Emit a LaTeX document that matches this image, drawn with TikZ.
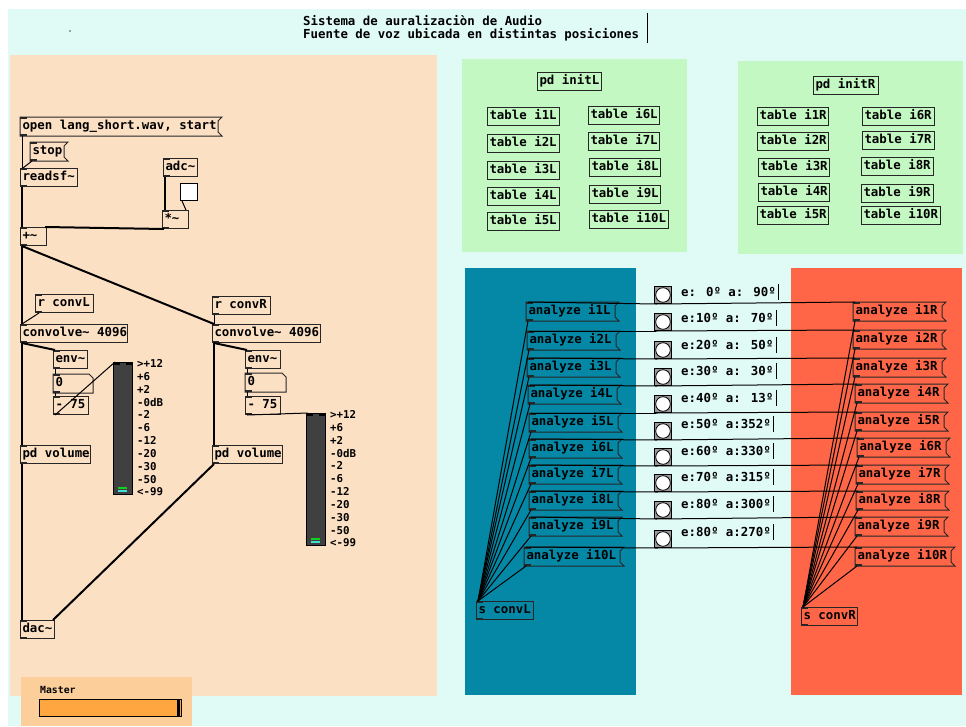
\documentclass[tikz,border=0pt]{standalone}
\usepackage{fontspec}
\setmainfont{DejaVu Sans Mono}
\usetikzlibrary{calc}

\definecolor{bgcyan}{HTML}{E0FAF6}
\definecolor{peach}{HTML}{FCE0C4}
\definecolor{masterbg}{HTML}{FCCF9A}
\definecolor{mint}{HTML}{C4F8C2}
\definecolor{pdteal}{HTML}{0488A6}
\definecolor{pdred}{HTML}{FF6647}
\definecolor{sliderorange}{HTML}{FFA640}
\definecolor{vugray}{HTML}{404040}
\definecolor{vugreen}{HTML}{10D020}
\definecolor{vucyan}{HTML}{40E0D0}

\newcommand\pdfnt{\fontsize{12.4}{14}\selectfont\bfseries}
\newcommand\vufnt{\fontsize{10.8}{12}\selectfont\bfseries}

\tikzset{
  pdbox/.style={anchor=north west, inner xsep=2pt, inner ysep=0pt,
    minimum height=18pt, text height=9pt, text depth=2.6pt,
    font=\pdfnt, line width=1pt, draw=black!85},
  edge/.style={line width=1pt, draw=black!85},
  wire/.style={line width=1pt, black},
  sigwire/.style={line width=2pt, black},
  nub/.style={fill=black!85},
  lbl/.style={anchor=west, inner sep=0pt, font=\pdfnt},
  vulbl/.style={anchor=west, inner sep=0pt, font=\vufnt},
}

% object box with inlet and outlet marks
\newcommand\pdobj[5]{%
  \pgfmathsetmacro\pdtw{#4-4}%
  \node[pdbox] (#1) at (#2,#3) {\makebox[\pdtw pt][l]{#5}};%
  \fill[nub] (#1.north west) rectangle ++(7pt,-2pt);%
  \fill[nub] (#1.south west) rectangle ++(7pt,2pt);%
}
% object box without ports
\newcommand\pdplain[5]{%
  \pgfmathsetmacro\pdtw{#4-4}%
  \node[pdbox] (#1) at (#2,#3) {\makebox[\pdtw pt][l]{#5}};%
}
% message box with flag on the right
\newcommand\pdmsg[5]{%
  \pgfmathsetmacro\pdtw{#4-4}%
  \node[pdbox, draw=none] (#1) at (#2,#3) {\makebox[\pdtw pt][l]{#5}};%
  \draw[edge] (#1.north west) -- ([xshift=4pt]#1.north east)
    -- ([yshift=-4pt]#1.north east) -- ([yshift=4pt]#1.south east)
    -- ([xshift=4pt]#1.south east) -- (#1.south west) -- cycle;%
  \fill[nub] (#1.north west) rectangle ++(7pt,-2pt);%
  \fill[nub] (#1.south west) rectangle ++(7pt,2pt);%
}
% number box with cut corner
\newcommand\pdnum[5]{%
  \pgfmathsetmacro\pdtw{#4-4}%
  \node[pdbox, draw=none] (#1) at (#2,#3) {\makebox[\pdtw pt][l]{#5}};%
  \draw[edge] (#1.north west) -- ([xshift=-4pt]#1.north east)
    -- ([yshift=-4pt]#1.north east) -- (#1.south east)
    -- (#1.south west) -- cycle;%
  \fill[nub] (#1.north west) rectangle ++(7pt,-2pt);%
  \fill[nub] (#1.south west) rectangle ++(7pt,2pt);%
}
% bang
\newcommand\pdbang[3]{%
  \node[anchor=north west, draw=black, line width=1pt, fill=black!40,
    minimum size=17pt, inner sep=0pt] (#1) at (#2,#3) {};%
  \draw[fill=white, line width=0.8pt] (#1.center) circle (7.3pt);%
}
% level meter with scale
\newcommand\pdvu[4]{% name, x, y, height
  \node[anchor=north west, draw=black, line width=1pt, fill=vugray,
    minimum width=19pt, minimum height=#4pt, inner sep=0pt] (#1) at (#2,#3) {};%
  \fill[black] (#1.north west) rectangle ++(7pt,-3pt);%
  \fill[black] (#1.north east) rectangle ++(-7pt,-3pt);%
  \fill[vucyan] ([xshift=5pt,yshift=3.5pt]#1.south west) rectangle ++(9pt,2pt);%
  \fill[vugreen] ([xshift=5pt,yshift=6.5pt]#1.south west) rectangle ++(9pt,2pt);%
  \foreach \t [count=\k from 0] in {>+12,+6,+2,-0dB,-2,-6,-12,-20,-30,-50,<-99}{%
    \node[vulbl] (#1s\k) at ([xshift=4pt,yshift={-1.5pt-12.85pt*\k}]#1.north east) {\t};}%
}

\begin{document}
\begin{tikzpicture}[x=1pt,y=-1pt]
\useasboundingbox (0,0) rectangle (966,726);
\fill[white] (0,0) rectangle (966,726);
\fill[bgcyan] (8,9) rectangle (966,726);

% canvases
\fill[peach] (10,55) rectangle (437,696);
\fill[masterbg] (21,677) rectangle (192,726);
\fill[mint] (462,59) rectangle (687,252);
\fill[mint] (738,61) rectangle (963,254);
\fill[pdteal] (465,268) rectangle (636,695);
\fill[pdred] (791,268) rectangle (962,695);

% heading
\node[lbl] (title1) at (303,21) {Sistema de auralizaciòn de Audio};
\node[lbl] (title2) at (303,35) {Fuente de voz ubicada en distintas posiciones};
\draw[line width=1pt] (647,13) -- (647,43);
\fill[black!70] (70,31) circle (0.9);

% ---------- player and convolution ----------
\pdmsg{openmsg}{20}{117}{197}{open lang\_short.wav, start}
\pdmsg{stopmsg}{30}{142}{33}{stop}
\pdobj{readsf}{20}{168}{57}{readsf\textasciitilde}
\pdobj{adc}{163}{158}{34}{adc\textasciitilde}
\node[anchor=north west, draw=black, line width=1pt, fill=white,
  minimum size=17pt, inner sep=0pt] (tgl) at (180,183) {};
\pdobj{mul}{162}{210}{26}{*\textasciitilde}
\pdobj{plus}{20}{227}{26}{+\textasciitilde}

\pdobj{rconvL}{35}{294}{58}{r convL}
\pdobj{convL}{20}{324}{107}{convolve\textasciitilde{} 4096}
\pdobj{envL}{53}{350}{34}{env\textasciitilde}
\pdnum{numL}{53}{374}{39}{0}
\pdobj{subL}{53}{396}{35}{- 75}
\pdobj{volL}{20}{445}{70}{pd volume}
\pdvu{vuL}{113}{362}{132}

\pdobj{rconvR}{212}{296}{58}{r convR}
\pdobj{convR}{212}{324}{108}{convolve\textasciitilde{} 4096}
\pdobj{envR}{245}{350}{35}{env\textasciitilde}
\pdnum{numR}{245}{373}{40}{0}
\pdobj{subR}{245}{396}{35}{- 75}
\pdobj{volR}{212}{445}{70}{pd volume}
\pdvu{vuR}{306}{413}{132}

\pdobj{dac}{20}{620}{34}{dac\textasciitilde}

% control wires
\draw[wire] ([xshift=2pt]openmsg.south west) -- ([xshift=2pt]readsf.north west);
\draw[wire] ([xshift=2pt]stopmsg.south west) -- ([xshift=3pt]readsf.north west);
\draw[wire] ([xshift=2pt]tgl.south west) -- ([xshift=-3pt]mul.north east);
\draw[wire] ([xshift=4pt]rconvL.south west) -- ([xshift=2pt]convL.north west);
\draw[wire] ([xshift=2pt]rconvR.south west) -- ([xshift=2pt]convR.north west);
\draw[wire] ([xshift=2pt]envL.south west) -- ([xshift=2pt]numL.north west);
\draw[wire] ([xshift=2pt]numL.south west) -- ([xshift=2pt]subL.north west);
\draw[wire] ([xshift=2pt]subL.south west) -- ([xshift=2pt]vuL.north west);
\draw[wire] ([xshift=2pt]envR.south west) -- ([xshift=2pt]numR.north west);
\draw[wire] ([xshift=2pt]numR.south west) -- ([xshift=2pt]subR.north west);
\draw[wire] ([xshift=2pt]subR.south west) -- ([xshift=2pt]vuR.north west);

% signal wires
\draw[sigwire] ([xshift=2pt]readsf.south west) -- ([xshift=2pt]plus.north west);
\draw[sigwire] ([xshift=2pt]adc.south west) -- ([xshift=3pt]mul.north west);
\draw[sigwire] ([xshift=2pt]mul.south west) -- ([xshift=-2pt]plus.north east);
\draw[sigwire] ([xshift=2pt]plus.south west) -- ([xshift=2pt]convL.north west);
\draw[sigwire] ([xshift=2pt]plus.south west) -- ([xshift=2pt]convR.north west);
\draw[sigwire] ([xshift=2pt]convL.south west) -- ([xshift=2pt]envL.north west);
\draw[sigwire] ([xshift=2pt]convL.south west) -- ([xshift=2pt]volL.north west);
\draw[sigwire] ([xshift=2pt]convR.south west) -- ([xshift=2pt]envR.north west);
\draw[sigwire] ([xshift=2pt]convR.south west) -- ([xshift=2pt]volR.north west);
\draw[sigwire] ([xshift=2pt]volL.south west) -- ([xshift=2pt]dac.north west);
\draw[sigwire] ([xshift=2pt]volR.south west) -- ([xshift=-2pt]dac.north east);

% master slider
\node[anchor=west, inner sep=0pt, font=\fontsize{9.8}{11}\selectfont\bfseries] (masterlbl) at (40,690) {Master};
\node[anchor=north west, draw=black, line width=1pt, fill=sliderorange,
  minimum width=142pt, minimum height=17pt, inner sep=0pt] (master) at (39,699) {};
\fill[black] ([xshift=-5pt,yshift=-1pt]master.north east) rectangle ([xshift=-2pt,yshift=1pt]master.south east);

% ---------- tables ----------
\pdplain{initL}{537}{72}{64}{pd initL}
\pdplain{tiL1}{487}{107}{72}{table i1L}
\pdplain{tiL2}{487}{134}{72}{table i2L}
\pdplain{tiL3}{487}{161}{72}{table i3L}
\pdplain{tiL4}{487}{187}{72}{table i4L}
\pdplain{tiL5}{487}{212}{72}{table i5L}
\pdplain{tiL6}{588}{106}{71}{table i6L}
\pdplain{tiL7}{588}{132}{71}{table i7L}
\pdplain{tiL8}{589}{158}{71}{table i8L}
\pdplain{tiL9}{589}{185}{71}{table i9L}
\pdplain{tiL10}{589}{210}{79}{table i10L}

\pdplain{initR}{813}{76}{65}{pd initR}
\pdplain{tiR1}{757}{107}{71}{table i1R}
\pdplain{tiR2}{757}{132}{71}{table i2R}
\pdplain{tiR3}{758}{158}{71}{table i3R}
\pdplain{tiR4}{758}{183}{71}{table i4R}
\pdplain{tiR5}{757}{206}{71}{table i5R}
\pdplain{tiR6}{862}{107}{72}{table i6R}
\pdplain{tiR7}{862}{131}{72}{table i7R}
\pdplain{tiR8}{861}{157}{72}{table i8R}
\pdplain{tiR9}{861}{184}{72}{table i9R}
\pdplain{tiR10}{861}{206}{79}{table i10R}

% ---------- position selectors ----------
\pdobj{sconvL}{476}{601}{57}{s convL}
\pdobj{sconvR}{801}{607}{56}{s convR}

\foreach \i/\x/\y/\w in {1/526/302/88, 2/527/331/88, 3/527/358/88, 4/528/385/88,
    5/529/413/88, 6/529/439/88, 7/529/465/88, 8/529/491/88, 9/529/517/88, 10/524/547/95}{
  \pdmsg{aL\i}{\x}{\y}{\w}{analyze i\i L}
}
\foreach \i/\x/\y/\w in {1/853/302/88, 2/853/330/88, 3/853/358/88, 4/855/384/88,
    5/855/412/88, 6/857/438/88, 7/856/465/88, 8/856/491/88, 9/855/517/88, 10/855/547/95}{
  \pdmsg{aR\i}{\x}{\y}{\w}{analyze i\i R}
}
\foreach \i/\by/\ly/\t in {1/286/292/{e: 0º a: 90º}, 2/313/318/{e:10º a: 70º},
    3/341/345/{e:20º a: 50º}, 4/368/371/{e:30º a: 30º}, 5/395/398/{e:40º a: 13º},
    6/422/424/{e:50º a:352º}, 7/448/451/{e:60º a:330º}, 8/474/477/{e:70º a:315º},
    9/501/504/{e:80º a:300º}, 10/530/532/{e:80º a:270º}}{
  \pdbang{bang\i}{654}{\by}
  \node[lbl] (pos\i) at (681,\ly) {\t};
  \draw[line width=1pt] ([xshift=3pt]pos\i.east |- 0,\ly-8) -- ([xshift=3pt]pos\i.east |- 0,\ly+8);
  \draw[wire] ([xshift=2pt]bang\i.south west) -- ([xshift=2pt]aL\i.north west);
  \draw[wire] ([xshift=2pt]bang\i.south west) -- ([xshift=2pt]aR\i.north west);
  \draw[wire] ([xshift=2pt]aL\i.south west) -- ([xshift=2pt]sconvL.north west);
  \draw[wire] ([xshift=2pt]aR\i.south west) -- ([xshift=2pt]sconvR.north west);
}
\end{tikzpicture}
\end{document}
